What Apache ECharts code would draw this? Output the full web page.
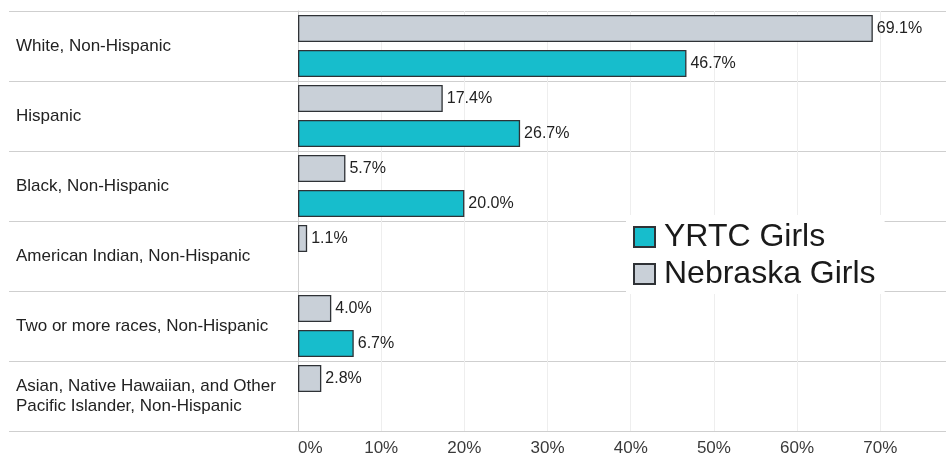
<!DOCTYPE html>
<html>
<head>
<meta charset="utf-8">
<script src="https://cdn.jsdelivr.net/npm/echarts@6/dist/echarts.min.js"></script>
<style>
  html, body { margin: 0; padding: 0; background: #fff; }
  #chart { width: 946px; height: 458px; }
</style>
</head>
<body>
<div id="chart"></div>
<script>
// Race / ethnicity share of girls: YRTC vs. statewide
const categories = [
  'White, Non-Hispanic',
  'Hispanic',
  'Black, Non-Hispanic',
  'American Indian, Non-Hispanic',
  'Two or more races, Non-Hispanic',
  'Asian, Native Hawaiian, and Other\nPacific Islander, Non-Hispanic'
];
const nebraskaGirls = [69.1, 17.4, 5.7, 1.1, 4.0, 2.8];
const yrtcGirls = [46.7, 26.7, 20.0, null, 6.7, null];
const axisMax = 77.9;
const axisStep = 10;
const lastTickShown = 70;

const FONT = 'Liberation Sans, Arial, sans-serif';
const GRAY_FILL = '#C9D0D8';
const TEAL_FILL = '#17BDCC';
const BORDER = '#2f3236';
const RULE = '#cfcfcf';

const valueLabel = {
  show: true,
  position: 'right',
  distance: 4,
  fontFamily: FONT,
  fontSize: 16,
  color: '#222',
  formatter: p => p.value == null ? '' : Number(p.value).toFixed(1) + '%'
};

const chart = echarts.init(document.getElementById('chart'), null, { renderer: 'canvas' });
chart.setOption({
  animation: false,
  backgroundColor: '#fff',
  grid: [
    // label column
    { left: 9, width: 289, top: 11, height: 420, outerBoundsMode: 'none', containLabel: false },
    // plotting area
    { left: 298, right: 0, top: 11, height: 420, outerBoundsMode: 'none', containLabel: false }
  ],
  xAxis: [
    { gridIndex: 0, type: 'value', min: 0, max: 1, show: false },
    {
      gridIndex: 1, type: 'value', min: 0, max: axisMax, interval: axisStep,
      axisLine: { show: false },
      axisTick: { show: false },
      splitLine: { show: true, lineStyle: { color: '#eeeeee', width: 1 } },
      axisLabel: {
        formatter: v => v > lastTickShown ? '' : v + '%',
        fontFamily: FONT, fontSize: 17, color: '#3a3a3a',
        margin: 9,
        alignMinLabel: 'left'
      }
    }
  ],
  yAxis: [
    {
      gridIndex: 0, type: 'category', data: categories, inverse: true,
      axisLine: { show: false },
      axisTick: { show: false },
      splitLine: { show: true, lineStyle: { color: RULE, width: 1 } },
      axisLabel: {
        inside: true, margin: 7, align: 'left',
        fontFamily: FONT, fontSize: 17, color: '#222', lineHeight: 20
      }
    },
    {
      gridIndex: 1, type: 'category', data: categories, inverse: true,
      axisLine: { show: true, lineStyle: { color: RULE, width: 1 } },
      axisTick: { show: false },
      axisLabel: { show: false },
      splitLine: { show: true, lineStyle: { color: RULE, width: 1 } }
    }
  ],
  legend: {
    orient: 'vertical',
    left: 626, top: 215,
    padding: [5, 9, 3, 7],
    backgroundColor: '#fff',
    itemWidth: 21, itemHeight: 20, itemGap: 3,
    icon: 'rect',
    data: ['YRTC Girls', 'Nebraska Girls'],
    textStyle: { fontFamily: FONT, fontSize: 32, lineHeight: 32, color: '#1a1a1a', padding: [2, 0, 0, 4] }
  },
  series: [
    {
      name: 'Nebraska Girls', type: 'bar', xAxisIndex: 1, yAxisIndex: 1,
      data: nebraskaGirls,
      barWidth: 27, barGap: '30%',
      itemStyle: { color: GRAY_FILL, borderColor: BORDER, borderWidth: 1.3 },
      label: valueLabel,
      z: 3
    },
    {
      name: 'YRTC Girls', type: 'bar', xAxisIndex: 1, yAxisIndex: 1,
      data: yrtcGirls,
      barWidth: 27, barGap: '30%',
      itemStyle: { color: TEAL_FILL, borderColor: BORDER, borderWidth: 1.3 },
      label: valueLabel,
      z: 3
    }
  ]
});
</script>
</body>
</html>
